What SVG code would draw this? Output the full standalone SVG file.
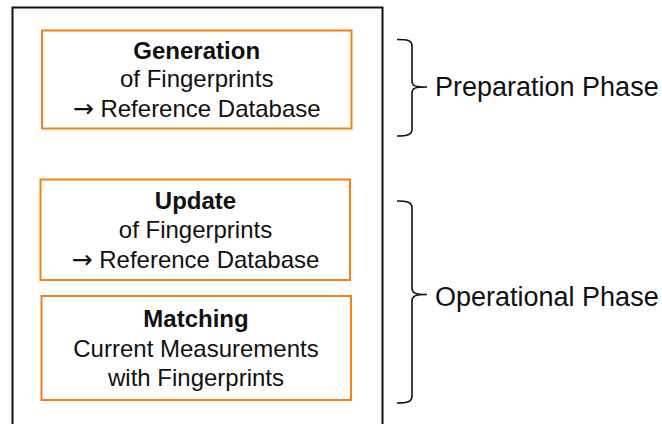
<svg xmlns="http://www.w3.org/2000/svg" width="662" height="424" viewBox="0 0 662 424">
<style>
.box{fill:#fff;stroke:#FA7F14;stroke-width:2}
.t{font-family:"Liberation Sans",Arial,sans-serif;font-size:24px;fill:#111;text-anchor:middle}
.b{font-weight:bold}
.ar{font-family:"DejaVu Sans",sans-serif;font-size:25px}
.ph{font-family:"Liberation Sans",Arial,sans-serif;font-size:27px;fill:#111}
.br{fill:none;stroke:#111;stroke-width:1.6}
</style>
<rect width="662" height="424" fill="#fff"/>
<g id="frame"><rect x="12.5" y="7.5" width="370" height="430" fill="none" stroke="#111" stroke-width="2"/></g>
<g id="generation">
<rect class="box" x="42" y="30.5" width="309.5" height="98"/>
<text class="t b" x="196.7" y="59">Generation</text>
<text class="t" x="196.7" y="87">of Fingerprints</text>
<text class="t" x="196.7" y="117"><tspan class="ar">→</tspan> Reference Database</text>
</g>
<g id="update">
<rect class="box" x="40.5" y="179.5" width="309.5" height="100.5"/>
<text class="t b" x="195.5" y="209">Update</text>
<text class="t" x="195.5" y="238">of Fingerprints</text>
<text class="t" x="195.5" y="268"><tspan class="ar">→</tspan> Reference Database</text>
</g>
<g id="matching">
<rect class="box" x="41.5" y="296" width="309.5" height="104"/>
<text class="t b" x="196" y="327">Matching</text>
<text class="t" x="196" y="357">Current Measurements</text>
<text class="t" x="196" y="386">with Fingerprints</text>
</g>
<g id="connectors">
<path class="br" d="M397,39.5 C407,39.5 412,40 412,46 V81 C412,86 415,87 427,87 C415,87 412,88 412,93 V129 C412,135 407,136 397,136"/>
<path class="br" d="M397,201 C407,201 412,202 412,208 V288 C412,293 415,294.5 427,294.5 C415,294.5 412,296 412,301 V396 C412,402 407,403 397,403"/>
</g>
<g id="prep"><text class="ph" x="435" y="96">Preparation Phase</text></g>
<g id="oper"><text class="ph" x="435" y="306">Operational Phase</text></g>
</svg>
